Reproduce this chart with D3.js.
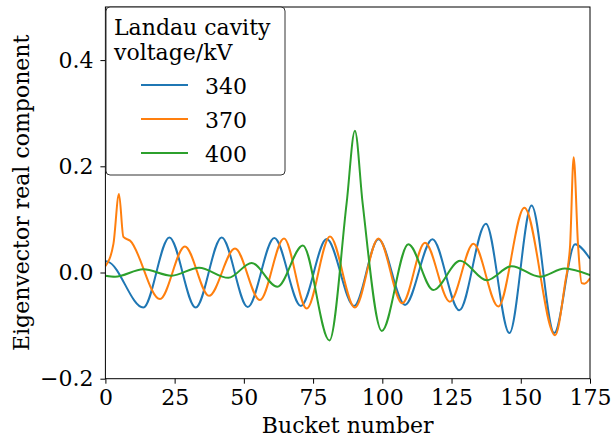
<!DOCTYPE html>
<html>
<head>
<meta charset="utf-8">
<script src="https://cdn.jsdelivr.net/npm/d3@7"></script>
<style>
  html, body { margin: 0; padding: 0; background: #fff; }
  svg text { font-family: "DejaVu Serif", serif; fill: #000; }
</style>
</head>
<body>
<svg id="chart" width="612" height="441"></svg>
<script>
// Eigenvector real component per bucket, three Landau cavity voltages.
// Values are the turning points; monotone curve
// keeps the extrema flat so the waves come out smooth.

const voltages = ["340", "370", "400"];
const colors = ["#1f77b4", "#ff7f0e", "#2ca02c"];

const bucket340 = [0, 1, 13.7, 23.1, 32.6, 42.0, 51.4, 61.0, 70.6, 79.9, 89.8, 98.6, 108.2, 118.1, 127.8, 137.4, 145.9, 153.9, 162.1, 169.6, 175];
const value340 = [0.021, 0.020, -0.066, 0.066, -0.066, 0.066, -0.065, 0.065, -0.063, 0.063, -0.063, 0.0625, -0.061, 0.0625, -0.071, 0.092, -0.114, 0.126, -0.114, 0.053, 0.026];

const bucket370 = [0, 2.9, 4.9, 6.5, 8.9, 19.7, 28.7, 37.4, 46.8, 55.8, 64.5, 72.7, 81.1, 90.1, 98.6, 107.2, 115.4, 124.4, 132.9, 141.9, 151.3, 162.4, 166, 167.8, 169.1, 170.7, 172, 173, 175];
const value370 = [0.012, 0.054, 0.148, 0.067, 0.060, -0.050, 0.049, -0.044, 0.045, -0.052, 0.064, -0.068, 0.068, -0.066, 0.064, -0.058, 0.056, -0.055, 0.054, -0.064, 0.122, -0.118, -0.020, 0.050, 0.217, 0.050, -0.020, -0.021, -0.011];

const bucket400 = [0, 3.5, 13.7, 23.9, 33.8, 44.4, 52.8, 62.1, 71.3, 80.9, 87.1, 90.1, 92.9, 99.8, 109.4, 118.4, 128.1, 137.7, 146.7, 156.9, 165.9, 175];
const value400 = [-0.006, -0.008, 0.006, -0.006, 0.009, -0.010, 0.018, -0.027, 0.051, -0.128, 0.13, 0.267, 0.13, -0.110, 0.053, -0.033, 0.022, -0.0145, 0.012, -0.008, 0.0075, -0.005];

const xTicks = [0, 25, 50, 75, 100, 125, 150, 175];
const yTicks = [-0.2, 0.0, 0.2, 0.4];

const series = [
  { label: voltages[0], xs: bucket340, ys: value340 },
  { label: voltages[1], xs: bucket370, ys: value370 },
  { label: voltages[2], xs: bucket400, ys: value400 },
];

const W = 612, H = 441;
const margin = { top: 7, right: 22, bottom: 62.3, left: 105.4 };
const iw = W - margin.left - margin.right;
const ih = H - margin.top - margin.bottom;

const svg = d3.select("#chart");
const g = svg.append("g").attr("transform", `translate(${margin.left},${margin.top})`);

const x = d3.scaleLinear().domain([0, 175]).range([0, iw]);
const y = d3.scaleLinear().domain([-0.2, 0.5]).range([ih, 0]);

svg.append("defs").append("clipPath").attr("id", "plot-clip")
  .append("rect").attr("width", iw).attr("height", ih);

const line = d3.line()
  .x((d) => x(d[0]))
  .y((d) => y(d[1]))
  .curve(d3.curveMonotoneX);

const lineLayer = g.append("g").attr("clip-path", "url(#plot-clip)");
series.forEach((s, i) => {
  lineLayer.append("path")
    .datum(s.xs.map((v, j) => [v, s.ys[j]]))
    .attr("fill", "none")
    .attr("stroke", colors[i])
    .attr("stroke-width", 2)
    .attr("stroke-linejoin", "round")
    .attr("d", line);
});

// axes — matplotlib look: outward ticks, serif labels
const fmtY = (d) => (d < 0 ? "\u2212" : "") + Math.abs(d).toFixed(1);

const xAxis = g.append("g")
  .attr("transform", `translate(0,${ih})`)
  .call(d3.axisBottom(x).tickValues(xTicks).tickSize(5).tickPadding(6).tickFormat(d3.format("d")));
const yAxis = g.append("g")
  .call(d3.axisLeft(y).tickValues(yTicks).tickSize(5).tickPadding(7).tickFormat(fmtY));

[xAxis, yAxis].forEach((a) => {
  a.select(".domain").remove();
  a.selectAll("line").attr("stroke", "#000").attr("stroke-width", 1);
  a.selectAll("text").attr("font-size", 22).attr("font-family", "DejaVu Serif");
});

// frame
g.append("rect")
  .attr("width", iw).attr("height", ih)
  .attr("fill", "none").attr("stroke", "#000").attr("stroke-width", 1);

svg.append("text")
  .attr("x", margin.left + iw / 2).attr("y", 433)
  .attr("text-anchor", "middle").attr("font-size", 22)
  .text("Bucket number");

svg.append("text")
  .attr("transform", `translate(29,${margin.top + ih / 2}) rotate(-90)`)
  .attr("text-anchor", "middle").attr("font-size", 22)
  .text("Eigenvector real component");

// legend
const legend = svg.append("g").attr("transform", "translate(106,7)");
legend.append("rect")
  .attr("width", 179).attr("height", 168).attr("rx", 4)
  .attr("fill", "#fff").attr("fill-opacity", 0.8)
  .attr("stroke", "#333").attr("stroke-width", 1);
legend.append("text").attr("x", 8).attr("y", 28).attr("font-size", 22).text("Landau cavity");
legend.append("text").attr("x", 8).attr("y", 53).attr("font-size", 22).text("voltage/kV");
series.forEach((s, i) => {
  const cy = 78 + i * 34;
  legend.append("line")
    .attr("x1", 35).attr("x2", 82).attr("y1", cy).attr("y2", cy)
    .attr("stroke", colors[i]).attr("stroke-width", 2);
  legend.append("text")
    .attr("x", 99).attr("y", cy + 9).attr("font-size", 22)
    .text(s.label);
});
</script>
</body>
</html>
